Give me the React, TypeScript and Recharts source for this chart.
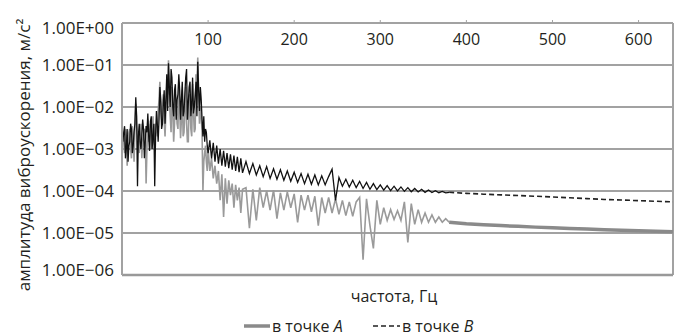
import React from 'react';
import { LineChart, Line, XAxis, YAxis, CartesianGrid, ReferenceLine } from 'recharts';

// частота, Гц
const freq = [
  1, 2, 3, 4, 5, 6, 7, 8, 9, 10,
  11, 12, 13, 14, 15, 16, 17, 18, 19, 20,
  21, 22, 23, 24, 25, 26, 27, 28, 29, 30,
  31, 32, 33, 34, 35, 36, 37, 38, 39, 40,
  41, 42, 43, 44, 45, 46, 47, 48, 49, 50,
  51, 52, 53, 54, 55, 56, 57, 58, 59, 60,
  61, 62, 63, 64, 65, 66, 67, 68, 69, 70,
  71, 72, 73, 74, 75, 76, 77, 78, 79, 80,
  81, 82, 83, 84, 85, 86, 87, 88, 89, 90,
  91, 92, 93, 94, 95, 96, 97, 98, 99, 100,
  102, 104, 106, 108, 110, 112, 114, 116, 118, 120,
  122, 124, 126, 128, 130, 132, 134, 136, 138, 140,
  144, 148, 152, 156, 160, 164, 168, 172, 176, 180,
  184, 188, 192, 196, 200, 204, 208, 212, 216, 220,
  224, 228, 232, 236, 240, 244, 248, 252, 256, 260,
  264, 268, 272, 276, 280, 284, 288, 292, 296, 300,
  304, 308, 312, 316, 320, 324, 328, 332, 336, 340,
  344, 348, 352, 356, 360, 364, 368, 372, 376, 380,
  400, 420, 440, 460, 480, 500, 520, 540, 560, 580, 600, 620, 640,
];

// в точке A
const ampA = [
  2e-3, 1.5e-3, 8e-4, 3e-3, 2e-3, 4e-4, 1.2e-3, 2.5e-3, 3e-3, 1e-3,
  6e-4, 3.5e-3, 2e-3, 5e-4, 3e-3, 1.2e-2, 4e-3, 2.5e-3, 1.5e-3, 8e-4,
  2.5e-3, 4e-3, 6e-4, 1.5e-3, 2e-3, 3e-3, 2.5e-3, 1.5e-4, 1e-3, 5e-3,
  1.5e-3, 2.5e-3, 4e-3, 1e-3, 2e-3, 6e-3, 1.5e-3, 1.2e-3, 4e-3, 3e-3,
  2e-3, 8e-3, 1.5e-2, 4e-2, 8e-3, 5e-3, 1.2e-2, 2e-2, 5e-3, 2e-3,
  8e-3, 3e-2, 2e-2, 1.3e-1, 1.5e-2, 6e-3, 2.5e-3, 3e-2, 8e-3, 1.5e-3,
  4e-3, 2e-2, 1e-2, 4e-3, 3e-3, 4e-2, 1e-2, 1.8e-3, 5e-3, 2.5e-2,
  2e-3, 2.5e-3, 8e-3, 3e-2, 4e-3, 1.5e-3, 1.5e-3, 2e-2, 1e-2, 3e-3,
  2e-3, 3.5e-2, 8e-3, 2.5e-3, 3e-3, 6e-2, 3e-2, 1.5e-1, 2e-2, 4e-3,
  1e-2, 6e-3, 2.5e-3, 1e-4, 5e-4, 8e-4, 1.2e-3, 5e-4, 3e-4, 1e-3,
  3e-4, 6e-4, 2e-4, 4e-4, 1.5e-4, 3e-4, 6e-5, 2.5e-4, 2.4e-5, 2e-4,
  5e-5, 1.8e-4, 8e-5, 1.5e-4, 4e-5, 1.4e-4, 6e-5, 1.2e-4, 3e-5, 1.1e-4,
  1.2e-4, 1.3e-5, 1.1e-4, 2e-5, 1.2e-4, 4e-5, 1e-4, 3.5e-5, 1.05e-4, 2.2e-5,
  9e-5, 3.5e-5, 9.5e-5, 4e-5, 8.5e-5, 1.8e-5, 8e-5, 3.5e-5, 8e-5, 3.2e-5,
  7.5e-5, 1.5e-5, 7e-5, 3e-5, 7e-5, 3e-5, 6.5e-5, 2.8e-5, 6e-5, 2.6e-5,
  5.5e-5, 2.5e-5, 5.5e-5, 7e-5, 2.3e-6, 6.5e-5, 1.5e-5, 4.3e-6, 6e-5, 1.6e-5,
  4e-5, 2e-5, 3.6e-5, 2.1e-5, 3.4e-5, 2e-5, 5.5e-5, 6e-6, 5e-5, 1.6e-5,
  3.6e-5, 1.8e-5, 3e-5, 1.8e-5, 2.7e-5, 1.8e-5, 2.4e-5, 1.8e-5, 2.2e-5, 1.8e-5,
  1.65e-5, 1.57e-5, 1.5e-5, 1.44e-5, 1.38e-5, 1.33e-5, 1.28e-5, 1.24e-5, 1.2e-5, 1.16e-5, 1.13e-5, 1.1e-5, 1.07e-5,
];

// в точке B
const ampB = [
  1.5e-3, 2.5e-3, 3.5e-3, 6e-4, 1e-3, 3e-3, 5e-4, 1.2e-3, 1.5e-3, 4e-3,
  3e-3, 8e-4, 1.2e-3, 2.5e-3, 4e-3, 1.7e-2, 6e-3, 1.3e-4, 2e-3, 4e-3,
  1.5e-3, 1e-3, 2e-3, 5e-3, 3e-3, 6e-4, 1.5e-3, 3.5e-3, 2.5e-3, 7e-3,
  2e-3, 9e-4, 4.5e-3, 6e-3, 1e-3, 2e-3, 4e-3, 1.3e-4, 2e-3, 8e-3,
  4e-3, 1.5e-3, 5e-3, 3e-2, 1.5e-2, 3e-3, 4e-3, 1.2e-2, 2.5e-2, 4e-3,
  1.5e-2, 6e-2, 8e-3, 1.1e-1, 3e-2, 1e-2, 8e-2, 5e-2, 1e-2, 6e-3,
  2.5e-2, 3.5e-2, 5e-3, 1.5e-2, 2e-2, 6e-2, 2.5e-2, 5e-3, 1.5e-2, 4e-2,
  6e-3, 8e-3, 2e-2, 5e-2, 8e-2, 5e-3, 1.2e-2, 3e-2, 4e-2, 6e-3,
  1.2e-2, 5e-2, 7e-3, 1e-2, 2e-2, 4e-2, 6e-3, 1.2e-1, 2.5e-2, 8e-3,
  3e-2, 1.5e-2, 5e-3, 2e-3, 6e-3, 1.5e-3, 3e-3, 2.5e-3, 1.2e-3, 8e-4,
  1.6e-3, 6e-4, 1.4e-3, 5e-4, 1.2e-3, 4.5e-4, 1e-3, 4e-4, 9e-4, 3.8e-4,
  8e-4, 3.5e-4, 7.5e-4, 3.2e-4, 7e-4, 3e-4, 6.5e-4, 2.8e-4, 6e-4, 2.7e-4,
  5e-4, 2.6e-4, 4.5e-4, 2.4e-4, 4e-4, 2.2e-4, 3.8e-4, 2e-4, 3.4e-4, 1.9e-4,
  3.2e-4, 1.8e-4, 3e-4, 1.7e-4, 2.8e-4, 1.6e-4, 2.6e-4, 1.5e-4, 2.5e-4, 1.45e-4,
  2.4e-4, 1.4e-4, 2.3e-4, 1.4e-4, 2.2e-4, 3.3e-4, 6e-5, 2.1e-4, 1.3e-4, 1.9e-4,
  1.25e-4, 1.8e-4, 1.2e-4, 1.7e-4, 1.15e-4, 1.6e-4, 1.1e-4, 1.5e-4, 1.08e-4, 1.4e-4,
  1.05e-4, 1.35e-4, 1.02e-4, 1.3e-4, 1e-4, 1.25e-4, 9.8e-5, 1.2e-4, 9.6e-5, 1.15e-4,
  9.5e-5, 1.1e-4, 9.3e-5, 1.06e-4, 9.2e-5, 1.02e-4, 9.1e-5, 9.8e-5, 9e-5, 9.3e-5,
  8.8e-5, 8.4e-5, 8.1e-5, 7.8e-5, 7.5e-5, 7.2e-5, 6.9e-5, 6.6e-5, 6.3e-5, 6.1e-5, 5.9e-5, 5.7e-5, 5.5e-5,
];

const xTicks = [100, 200, 300, 400, 500, 600];
const yTicks = [1, 1e-1, 1e-2, 1e-3, 1e-4, 1e-5, 1e-6];

// beyond this frequency the spectra are smooth (thick A, dashed B)
const NOISE_END = 380;

const rows = freq.map((f, i) => ({
  f,
  aNoise: f <= NOISE_END ? ampA[i] : null,
  aTail: f >= NOISE_END ? ampA[i] : null,
  bNoise: f <= NOISE_END ? ampB[i] : null,
  bTail: f >= NOISE_END ? ampB[i] : null,
}));

const TEXT = '#231f20';
const GRID = '#a2a2a2';

function expLabel(v: number) {
  const e = Math.round(Math.log10(v));
  return '1.00E' + (e >= 0 ? '+' : '−') + String(Math.abs(e)).padStart(2, '0');
}

function YTick(props: any) {
  const { x, y, payload } = props;
  let dy = 6;
  if (payload.value === 1) dy += 5;
  if (payload.value === 1e-6) dy -= 5;
  return (
    <text x={x} y={y + dy} textAnchor="end" fontSize={17} fill={TEXT}>
      {expLabel(payload.value)}
    </text>
  );
}

function XTick(props: any) {
  const { x, payload } = props;
  return (
    <text x={x} y={45} textAnchor="middle" fontSize={16} fill={TEXT}>
      {payload.value}
    </text>
  );
}

function YTitle() {
  return (
    <text transform="rotate(-90)" x={-155} y={30} textAnchor="middle" fontSize={17} fill={TEXT}>
      амплитуда виброускорения, м/с²
    </text>
  );
}

function BottomTexts() {
  return (
    <g>
      <text x={394} y={302} textAnchor="middle" fontSize={16} fill={TEXT}>частота, Гц</text>
      <line x1={244} x2={270} y1={326} y2={326} stroke="#8a8a8a" strokeWidth={3.5} />
      <text x={272} y={332} fontSize={16} fill={TEXT}>
        в точке{' '}<tspan fontStyle="italic">A</tspan>
      </text>
      <line x1={373} x2={400} y1={326} y2={326} stroke="#222" strokeWidth={1.6} strokeDasharray="5 3" />
      <text x={402} y={332} fontSize={16} fill={TEXT}>
        в точке{' '}<tspan fontStyle="italic">B</tspan>
      </text>
    </g>
  );
}

export default function App() {
  return (
    <div style={{ position: 'absolute', left: 0, top: 0, fontFamily: '"Open Sans", sans-serif', background: '#fff' }}>
      <LineChart width={680} height={336} data={rows} margin={{ top: 22, right: 7, bottom: 61, left: 0 }}>
        <CartesianGrid vertical={false} stroke={GRID} strokeWidth={2} />
        <XAxis
          dataKey="f"
          type="number"
          domain={[0, 640]}
          ticks={xTicks}
          orientation="top"
          height={1}
          axisLine={false}
          tickLine={{ stroke: GRID }}
          tickSize={3}
          tick={XTick}
          label={{ content: BottomTexts }}
        />
        <YAxis
          scale="log"
          domain={[1e-6, 1]}
          ticks={yTicks}
          allowDataOverflow
          width={122}
          axisLine={{ stroke: GRID, strokeWidth: 2 }}
          tickLine={false}
          tickSize={0}
          tickMargin={8}
          tick={YTick}
          label={{ content: YTitle }}
        />
        <ReferenceLine x={640} stroke={GRID} strokeWidth={2} />
        <ReferenceLine y={1e-6} stroke="#999" strokeWidth={2.5} />
        <Line dataKey="aNoise" stroke="#9a9a9a" strokeWidth={1.6} dot={false} isAnimationActive={false} />
        <Line dataKey="aTail" stroke="#8a8a8a" strokeWidth={3.5} dot={false} isAnimationActive={false} />
        <Line dataKey="bNoise" stroke="#111" strokeWidth={1.3} dot={false} isAnimationActive={false} />
        <Line dataKey="bTail" stroke="#222" strokeWidth={1.6} strokeDasharray="5 3" dot={false} isAnimationActive={false} />
      </LineChart>
    </div>
  );
}
